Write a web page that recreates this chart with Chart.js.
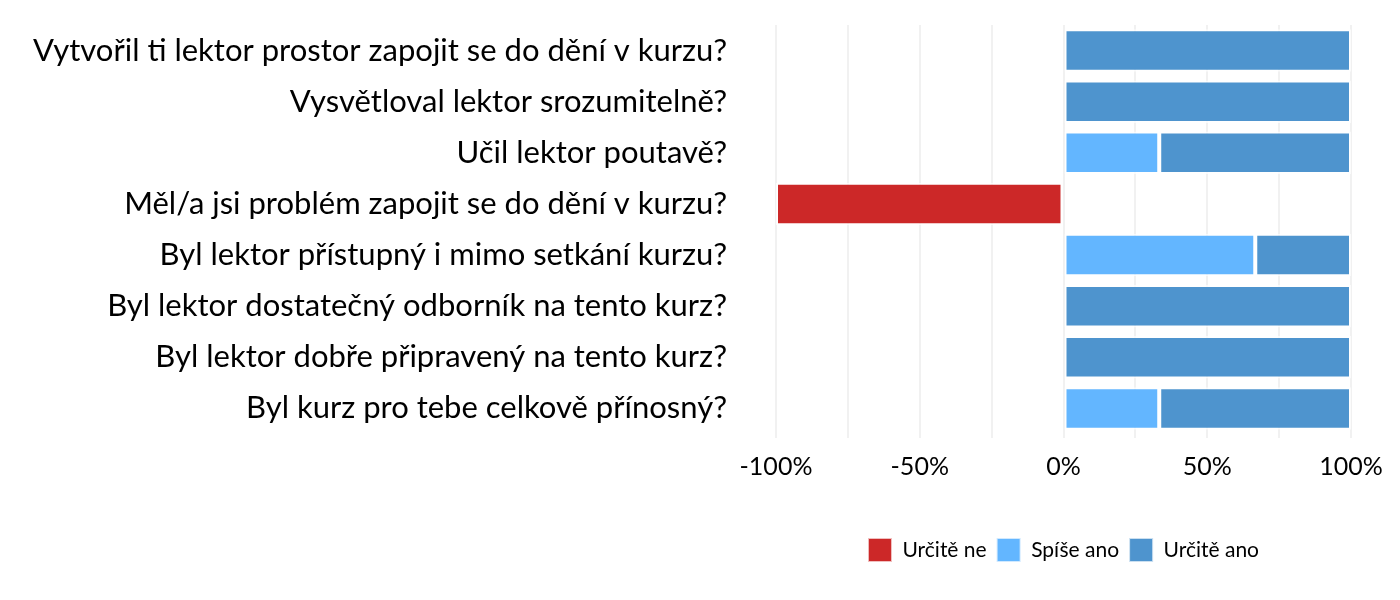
<!DOCTYPE html>
<html>
<head>
<meta charset="utf-8">
<script src="https://cdn.jsdelivr.net/npm/chart.js@4/dist/chart.umd.min.js"></script>
<style>
    html, body { margin: 0; padding: 0; background: #fff; }
    #wrap { width: 1400px; height: 600px; }
</style>
</head>
<body>
<div id="wrap"><canvas id="chart"></canvas></div>
<script>
// Data
const questions = [
    "Vytvořil ti lektor prostor zapojit se do dění v kurzu?",
    "Vysvětloval lektor srozumitelně?",
    "Učil lektor poutavě?",
    "Měl/a jsi problém zapojit se do dění v kurzu?",
    "Byl lektor přístupný i mimo setkání kurzu?",
    "Byl lektor dostatečný odborník na tento kurz?",
    "Byl lektor dobře připravený na tento kurz?",
    "Byl kurz pro tebe celkově přínosný?"
];
const urciteNe = [null, null, null, -100, null, null, null, null];
const spiseAno = [null, null, 33.3, null, 66.7, null, null, 33.3];
const urciteAno = [100, 100, 66.7, null, 33.3, 100, 100, 66.7];
const xTicks = [-100, -75, -50, -25, 0, 25, 50, 75, 100];
const xLabelled = [-100, -50, 0, 50, 100];

const FONT = "Lato, 'Open Sans', sans-serif";

// keep the legend centred under the plot area instead of the whole canvas
const legendUnderPlot = {
    id: "legendUnderPlot",
    afterLayout(chart) {
        const lg = chart.legend;
        lg.left = chart.chartArea.left;
        lg.right = chart.chartArea.right;
        lg.width = lg.right - lg.left;
    }
};

const barStyle = {
    borderWidth: 2,
    borderColor: "rgba(255,255,255,0.7)",
    borderSkipped: false,
    barPercentage: 0.83,
    categoryPercentage: 1
};

const ctx = document.getElementById("chart").getContext("2d");
new Chart(ctx, {
    type: "bar",
    data: {
        labels: questions,
        datasets: [
            Object.assign({ label: "Určitě ne", data: urciteNe, backgroundColor: "#CC2828" }, barStyle),
            Object.assign({ label: "Spíše ano", data: spiseAno, backgroundColor: "#63B6FF" }, barStyle),
            Object.assign({ label: "Určitě ano", data: urciteAno, backgroundColor: "#4E94CE" }, barStyle)
        ]
    },
    options: {
        indexAxis: "y",
        responsive: true,
        maintainAspectRatio: false,
        animation: false,
        layout: { padding: { top: 25, right: 49, bottom: 28, left: 0 } },
        plugins: {
            legend: {
                position: "bottom",
                labels: {
                    boxWidth: 24,
                    boxHeight: 24,
                    padding: 10,
                    color: "#000",
                    font: { family: FONT, size: 21 }
                }
            },
            tooltip: { enabled: false }
        },
        scales: {
            x: {
                stacked: true,
                min: -100,
                max: 100,
                afterBuildTicks(scale) {
                    scale.ticks = xTicks.map(v => ({ value: v }));
                },
                afterFit(scale) { scale.height = 94; },
                border: { display: false },
                grid: { color: "#f1f1f1", lineWidth: 2, tickLength: 4 },
                ticks: {
                    padding: 14,
                    color: "#000",
                    font: { family: FONT, size: 25 },
                    autoSkip: false,
                    maxRotation: 0,
                    callback: v => xLabelled.includes(v) ? v + "%" : ""
                }
            },
            y: {
                stacked: true,
                afterFit(scale) { scale.width = 776; },
                border: { display: false },
                // tick marks are hidden; their length just spaces the labels from the plot
                grid: { display: false, drawTicks: true, tickLength: 49 },
                ticks: {
                    padding: 0,
                    color: "#000",
                    font: { family: FONT, size: 31 }
                }
            }
        }
    },
    plugins: [legendUnderPlot]
});
</script>
</body>
</html>
